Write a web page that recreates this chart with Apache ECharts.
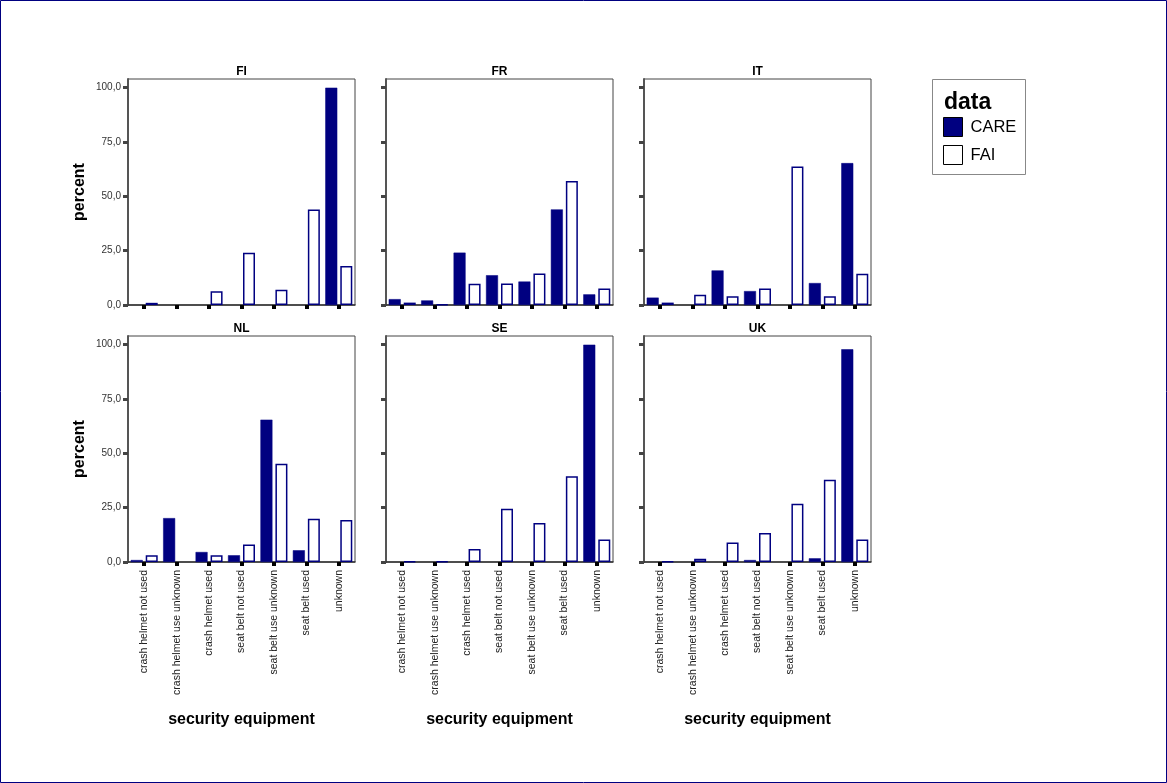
<!DOCTYPE html>
<html>
<head>
<meta charset="utf-8">
<script src="https://cdn.jsdelivr.net/npm/echarts@6/dist/echarts.min.js"></script>
<style>
html,body{margin:0;padding:0;background:#fff;}
#chart{width:1167px;height:783px;}
</style>
</head>
<body>
<div id="chart"></div>
<script>
const categories = ['crash helmet not used','crash helmet use unknown','crash helmet used','seat belt not used','seat belt use unknown','seat belt used','unknown'];
const countries = ['FI','FR','IT','NL','SE','UK'];
const yTicks = [0, 25, 50, 75, 100];

const care_FI = [null, null, null, null, null, null, 100];
const fai_FI  = [1.0, null, 6.3, 24.0, 7.0, 43.9, 17.9];
const care_FR = [2.7, 2.1, 24.1, 13.7, 10.8, 44.0, 4.9];
const fai_FR  = [1.1, 0.3, 9.8, 9.9, 14.5, 57.1, 7.6];
const care_IT = [3.4, null, 15.9, 6.4, null, 10.1, 65.3];
const fai_IT  = [1.1, 4.7, 4.0, 7.6, 63.7, 4.0, 14.4];
const care_NL = [0.9, 20.2, 4.6, 3.1, 65.5, 5.4, null];
const fai_NL  = [3.1, null, 3.1, 8.1, 45.2, 19.9, 19.3];
const care_SE = [null, null, null, null, null, null, 100];
const fai_SE  = [0.3, 0.3, 6.0, 24.5, 17.9, 39.5, 10.4];
const care_UK = [null, null, null, 0.9, null, 1.7, 97.9];
const fai_UK  = [0.3, 1.5, 9.0, 13.3, 26.8, 37.8, 10.4];

const careData = [care_FI, care_FR, care_IT, care_NL, care_SE, care_UK];
const faiData = [fai_FI, fai_FR, fai_IT, fai_NL, fai_SE, fai_UK];

const NAVY = '#000080';
const FONT = 'Liberation Sans, Arial, sans-serif';
const colLeft = [128, 386, 644];
const rowTop = [79, 336];
const W = 227, H = 226;

const grids = [], xAxes = [], yAxes = [], series = [], titles = [];
countries.forEach((c, i) => {
  const col = i % 3, row = Math.floor(i / 3);
  grids.push({left: colLeft[col], top: rowTop[row], width: W, height: H,
    show: true, borderColor: '#444', borderWidth: 1, backgroundColor: 'transparent'});
  titles.push({text: c, left: colLeft[col] + W / 2, top: rowTop[row] - 13, textAlign: 'center', padding: 0,
    textStyle: {fontFamily: FONT, fontSize: 12, fontWeight: 'bold', color: '#000', lineHeight: 12}});
  xAxes.push({
    type: 'category', gridIndex: i, data: categories,
    axisLine: {lineStyle: {color: '#333', width: 1.5}},
    axisTick: {show: true, alignWithLabel: true, length: 4, lineStyle: {color: '#000', width: 4}},
    axisLabel: {show: row === 1, rotate: 90, interval: 0, fontSize: 10.5, fontFamily: FONT, color: '#222', margin: 8},
    name: row === 1 ? 'security equipment' : '',
    nameLocation: 'middle', nameGap: 150,
    nameTextStyle: {fontFamily: FONT, fontSize: 16, fontWeight: 'bold', color: '#000'}
  });
  yAxes.push({
    type: 'value', gridIndex: i, min: 0, max: 104,
    axisLine: {show: true, lineStyle: {color: '#555', width: 2}},
    axisTick: {show: true, length: 5, customValues: yTicks, lineStyle: {color: '#444', width: 3}},
    axisLabel: {show: col === 0, customValues: yTicks, fontSize: 10, fontFamily: FONT, color: '#333', margin: 7,
      formatter: v => v.toFixed(1).replace('.', ',')},
    splitLine: {show: false},
    name: col === 0 ? 'percent' : '',
    nameLocation: 'middle', nameGap: 40,
    nameTextStyle: {fontFamily: FONT, fontSize: 16, fontWeight: 'bold', color: '#000'}
  });
  series.push({
    type: 'bar', name: 'CARE', xAxisIndex: i, yAxisIndex: i, data: careData[i],
    barWidth: 12, barGap: '25%',
    itemStyle: {color: NAVY, borderColor: NAVY, borderWidth: 0.5}
  });
  series.push({
    type: 'bar', name: 'FAI', xAxisIndex: i, yAxisIndex: i, data: faiData[i],
    barWidth: 12, barGap: '25%',
    itemStyle: {color: '#fff', borderColor: NAVY, borderWidth: 1.5}
  });
});

const chart = echarts.init(document.getElementById('chart'), null, {renderer: 'canvas'});
chart.setOption({
  animation: false,
  backgroundColor: '#fff',
  title: titles,
  grid: grids,
  xAxis: xAxes,
  yAxis: yAxes,
  series: series,
  legend: {
    orient: 'vertical', left: 943, top: 117, padding: 0,
    itemWidth: 19, itemHeight: 19, itemGap: 8, icon: 'rect',
    selectedMode: false,
    textStyle: {fontFamily: FONT, fontSize: 16.5, color: '#000', padding: [0, 0, 0, 3]},
    data: [
      {name: 'CARE', itemStyle: {color: NAVY, borderColor: '#000', borderWidth: 1}},
      {name: 'FAI', itemStyle: {color: '#fff', borderColor: '#000', borderWidth: 1}}
    ]
  },
  graphic: [
    {type: 'rect', shape: {x: 0.5, y: 0.5, width: 1166, height: 782}, style: {fill: 'none', stroke: NAVY, lineWidth: 1}, silent: true},
    {type: 'rect', shape: {x: 932.5, y: 79.5, width: 93, height: 95}, style: {fill: 'none', stroke: '#888', lineWidth: 1}, silent: true},
    {type: 'text', left: 944, top: 91, style: {text: 'data', font: 'bold 23px ' + FONT, fill: '#000'}, silent: true}
  ]
});
</script>
</body>
</html>
